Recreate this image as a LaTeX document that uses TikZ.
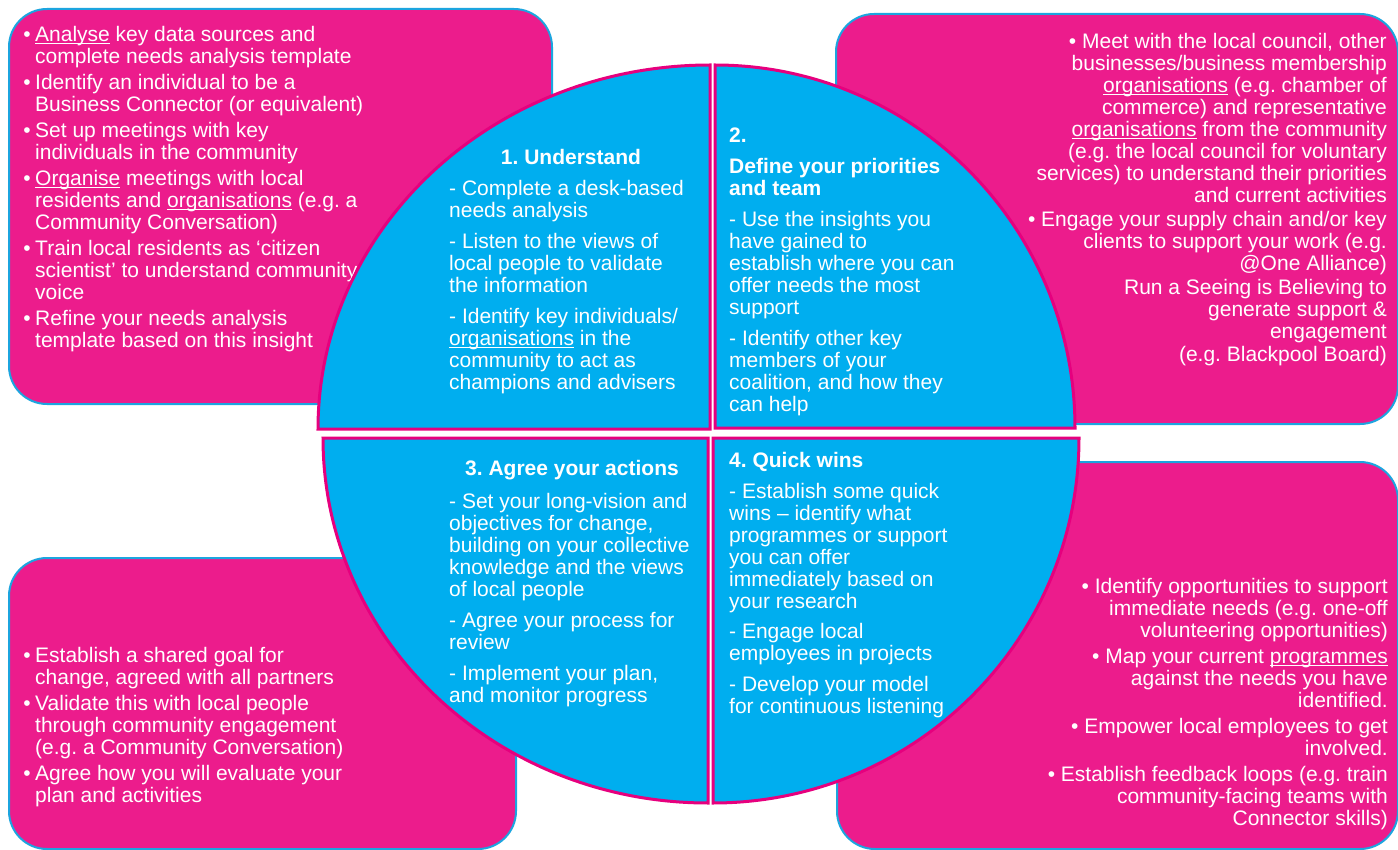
\documentclass[tikz,border=0pt]{standalone}
\usepackage{fontspec}
\setmainfont{Liberation Sans}
\usepackage{tikz}
\usetikzlibrary{positioning}

\definecolor{boxpink}{HTML}{EC1C8C}
\definecolor{boxedge}{HTML}{1CA5DF}
\definecolor{quadblue}{HTML}{00AEEF}
\definecolor{quadedge}{HTML}{E6007E}
\definecolor{spellred}{HTML}{E8303A}

\frenchspacing
% bullet hanging left of the text column
\newcommand{\bul}{\llap{•\hspace{4.5pt}}}
% word with the red spell-check line under it
\newsavebox{\spellbox}
\newcommand{\spellmark}[1]{\sbox\spellbox{#1}\rlap{\usebox\spellbox}\rlap{\raisebox{-2.4pt}{\textcolor{spellred}{\rule{\wd\spellbox}{1pt}}}}\raisebox{-1.6pt}{\rule{\wd\spellbox}{0.5pt}}}

\begin{document}
\begin{tikzpicture}[x=1pt, y=1pt,
    pinkbox/.style={draw=boxedge, line width=2pt, fill=boxpink, rounded corners=38pt, anchor=north west, inner sep=0pt},
    quad/.style={draw=quadedge, line width=3pt, fill=quadblue},
    txt/.style={text=white, inner sep=0pt, font=\fontsize{21}{22}\selectfont},
    head/.style={txt, font=\fontsize{21}{22}\selectfont\bfseries}]

    \useasboundingbox (0,0) rectangle (1398,-850);

    % Outer boxes
    \node [pinkbox, minimum width=543, minimum height=395] (understandbox) at (8,-8) {};
    \node [pinkbox, minimum width=562, minimum height=410] (prioritybox) at (835,-13) {};
    \node [pinkbox, minimum width=507, minimum height=291] (actionbox) at (8,-557) {};
    \node [pinkbox, minimum width=561, minimum height=387] (winbox) at (836,-461) {};

    % Box texts
    \node [txt, align=left, anchor=north west] (understandlist) at (35,-26.5) {%
        \bul\spellmark{Analyse} key data sources and\\
        complete needs analysis template\\[4pt]
        \bul Identify an individual to be a\\
        Business Connector (or equivalent)\\[4pt]
        \bul Set up meetings with key\\
        individuals in the community\\[4pt]
        \bul\spellmark{Organise} meetings with local\\
        residents and \spellmark{organisations} (e.g. a\\
        Community Conversation)\\[4pt]
        \bul Train local residents as ‘citizen\\
        scientist’ to understand community\\
        voice\\[4pt]
        \bul Refine your needs analysis\\
        template based on this insight};

    \node [txt, align=right, anchor=north east] (prioritylist) at (1387,-33.5) {%
        • Meet with the local council, other\\
        businesses/business membership\\
        \spellmark{organisations} (e.g. chamber of\\
        commerce) and representative\\
        \spellmark{organisations} from the community\\
        (e.g. the local council for voluntary\\
        services) to understand their priorities\\
        and current activities\\[2pt]
        • Engage your supply chain and/or key\\
        clients to support your work (e.g.\\
        @One Alliance)\\[2pt]
        Run a Seeing is Believing to\\
        generate support \&\\
        engagement\\[1pt]
        (e.g. Blackpool Board)};

    \node [txt, align=left, anchor=north west] (actionlist) at (35,-647.5) {%
        \bul Establish a shared goal for\\
        change, agreed with all partners\\[4pt]
        \bul Validate this with local people\\
        through community engagement\\
        (e.g. a Community Conversation)\\[4pt]
        \bul Agree how you will evaluate your\\
        plan and activities};

    \node [txt, align=right, anchor=north east] (winlist) at (1388,-578.5) {%
        • Identify opportunities to support\\
        immediate needs (e.g. one-off\\
        volunteering opportunities)\\[4pt]
        • Map your current \spellmark{programmes}\\
        against the needs you have\\
        identified.\\[4pt]
        • Empower local employees to get\\
        involved.\\[4pt]
        • Establish feedback loops (e.g. train\\
        community-facing teams with\\
        Connector skills)};

    % Quadrants of the circle
    \draw [quad] (710,-429) -- (318,-429) arc [start angle=180, end angle=90, x radius=392, y radius=364] -- cycle;
    \draw [quad] (715,-428) -- (715,-65) arc [start angle=90, end angle=0, x radius=360, y radius=363] -- cycle;
    \draw [quad] (708,-438) -- (323,-438) arc [start angle=180, end angle=270, x radius=385, y radius=365] -- cycle;
    \draw [quad] (713,-438) -- (713,-803) arc [start angle=270, end angle=360, x radius=366, y radius=365] -- cycle;

    % Quadrant texts
    \node [head] (understand) at (571,-157) {1. Understand};
    \node [txt, align=left, anchor=north west] (understandsteps) at (449,-180.5) {%
        - Complete a desk-based\\
        needs analysis\\[9pt]
        - Listen to the views of\\
        local people to validate\\
        the information\\[9pt]
        - Identify key individuals/\\
        \spellmark{organisations} in the\\
        community to act as\\
        champions and advisers};

    \node [txt, align=left, anchor=north west] (priorities) at (729,-127.5) {%
        \textbf{2.}\\[9pt]
        \textbf{Define your priorities}\\
        \textbf{and team}\\[9pt]
        - Use the insights you\\
        have gained to\\
        establish where you can\\
        offer needs the most\\
        support\\[9pt]
        - Identify other key\\
        members of your\\
        coalition, and how they\\
        can help};

    \node [head] (agree) at (572,-470) {3. Agree your actions};
    \node [txt, align=left, anchor=north west] (agreesteps) at (449,-493.5) {%
        - Set your long-vision and\\
        objectives for change,\\
        building on your collective\\
        knowledge and the views\\
        of local people\\[9pt]
        - Agree your process for\\
        review\\[9pt]
        - Implement your plan,\\
        and monitor progress};

    \node [txt, align=left, anchor=north west] (quickwins) at (729,-452.5) {%
        \textbf{4. Quick wins}\\[9pt]
        - Establish some quick\\
        wins – identify what\\
        programmes or support\\
        you can offer\\
        immediately based on\\
        your research\\[8pt]
        - Engage local\\
        employees in projects\\[9pt]
        - Develop your model\\
        for continuous listening};

\end{tikzpicture}
\end{document}
